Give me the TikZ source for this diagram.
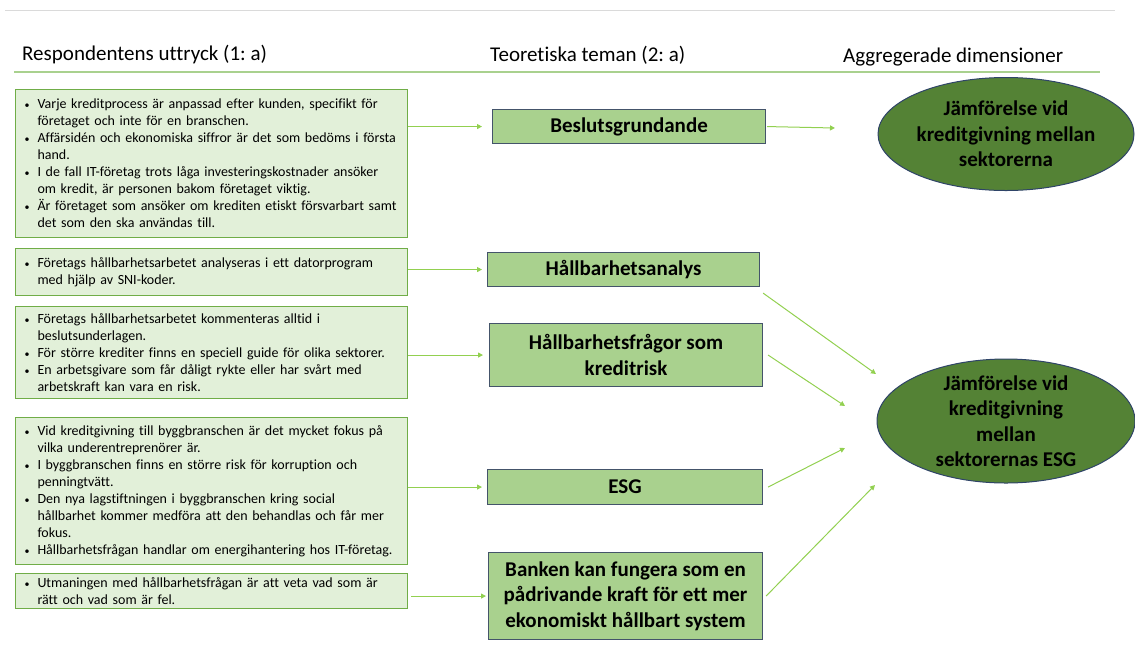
\documentclass[tikz,border=0pt]{standalone}
\usepackage{fontspec}
\setmainfont{Carlito}[Ligatures=NoCommon]
\frenchspacing
\usetikzlibrary{arrows.meta,shapes.geometric}
\definecolor{lfill}{HTML}{E2F0D9}
\definecolor{lborder}{HTML}{70AD47}
\definecolor{mfill}{HTML}{A9D18E}
\definecolor{mborder}{HTML}{44546A}
\definecolor{efill}{HTML}{548235}
\definecolor{eborder}{HTML}{2F4468}
\definecolor{arrgreen}{HTML}{92D050}
\definecolor{hline}{HTML}{A9D18E}
\definecolor{topline}{HTML}{DADADA}
\newcommand{\bitem}[1]{\hangindent=14pt\hangafter=1\noindent\makebox[14pt][l]{\hspace{1pt}{\fontsize{10}{10}\selectfont\textbullet}}#1\par}
\tikzset{
  lbox/.style={draw=lborder, line width=1pt, fill=lfill, anchor=north west, inner xsep=8pt, inner ysep=0pt,
    text width=376pt, align=left, font=\fontsize{14}{17}\selectfont, minimum width=392pt},
  mbox/.style={draw=mborder, line width=1.1pt, fill=mfill, anchor=north west, inner sep=0pt, align=center,
    font=\fontsize{21}{25.5}\selectfont\bfseries},
  ebox/.style={ellipse, draw=eborder, line width=1pt, fill=efill, inner xsep=-2pt, inner ysep=-8pt, align=center,
    font=\fontsize{21}{25.5}\selectfont\bfseries},
  hdr/.style={anchor=west, inner sep=0pt, font=\fontsize{21}{24}\selectfont},
  arr/.style={draw=arrgreen, line width=1pt, -{Triangle[length=5pt,width=5pt]}}
}
\begin{document}
\begin{tikzpicture}[x=1pt,y=-1pt]
\useasboundingbox (0,0) rectangle (1135,649);
% top rules
\draw[topline, line width=1pt] (5,10) -- (1115,10);
\node[hdr] (h1) at (22,55) {Respondentens uttryck (1: a)};
\node[hdr] (h2) at (490,55) {Teoretiska teman (2: a)};
\node[hdr] (h3) at (843,57) {Aggregerade dimensioner};
\draw[hline, line width=2pt] (14,72) -- (1100,72);

% left boxes
\node[lbox, minimum height=148pt] (L1) at (15,89) {%
\bitem{Varje kreditprocess är anpassad efter kunden, specifikt för\newline företaget och inte för en branschen.}
\bitem{Affärsidén och ekonomiska siffror är det som bedöms i första\newline hand.}
\bitem{I de fall IT-företag trots låga investeringskostnader ansöker\newline om kredit, är personen bakom företaget viktig.}
\bitem{Är företaget som ansöker om krediten etiskt försvarbart samt\newline det som den ska användas till.}};
\node[lbox, minimum height=47pt] (L2) at (15,248) {%
\bitem{Företags hållbarhetsarbetet analyseras i ett datorprogram\newline med hjälp av SNI-koder.}};
\node[lbox, minimum height=92pt] (L3) at (15,306) {%
\bitem{Företags hållbarhetsarbetet kommenteras alltid i\newline beslutsunderlagen.}
\bitem{För större krediter finns en speciell guide för olika sektorer.}
\bitem{En arbetsgivare som får dåligt rykte eller har svårt med\newline arbetskraft kan vara en risk.}};
\node[lbox, minimum height=147pt] (L4) at (15,417) {%
\bitem{Vid kreditgivning till byggbranschen är det mycket fokus på\newline vilka underentreprenörer är.}
\bitem{I byggbranschen finns en större risk för korruption och\newline penningtvätt.}
\bitem{Den nya lagstiftningen i byggbranschen kring social\newline hållbarhet kommer medföra att den behandlas och får mer\newline fokus.}
\bitem{Hållbarhetsfrågan handlar om energihantering hos IT-företag.}};
\node[lbox, minimum height=35pt] (L5) at (15,573) {%
\bitem{Utmaningen med hållbarhetsfrågan är att veta vad som är\newline rätt och vad som är fel.}};

% middle boxes
\node[mbox, minimum width=273pt, minimum height=34pt] (B1) at (492,109) {Beslutsgrundande};
\node[mbox, minimum width=272pt, minimum height=34pt] (B2) at (487,252) {Hållbarhetsanalys};
\node[mbox, minimum width=273pt, minimum height=63pt] (B3) at (489,323) {Hållbarhetsfrågor som\\kreditrisk};
\node[mbox, minimum width=275pt, minimum height=35pt] (B4) at (487,469) {ESG};
\node[mbox, minimum width=274pt, minimum height=87pt] (B5) at (488,552) {Banken kan fungera som en\\pådrivande kraft för ett mer\\ekonomiskt hållbart system};

% ellipses
\node[ebox, minimum width=256pt, minimum height=113pt] (E1) at (1006,134) {Jämförelse vid\\kreditgivning mellan\\sektorerna};
\node[ebox, minimum width=258pt, minimum height=124pt] (E2) at (1006,421) {Jämförelse vid\\kreditgivning\\mellan\\sektorernas ESG};

% arrow targets
\coordinate (t0) at (835,128);
\coordinate (t1) at (876,374);
\coordinate (t2) at (845,406);
\coordinate (t3) at (845,448);
\coordinate (t4) at (875,485);

% arrows left -> middle
\draw[arr] (L1.east |- B1.west) -- ([xshift=-10pt]B1.west);
\draw[arr] (L2.east |- B2.west) -- ([xshift=-5pt]B2.west);
\draw[arr] (L3.east |- B3.west) -- ([xshift=-6pt]B3.west);
\draw[arr] (L4.east |- B4.west) -- ([xshift=-5pt]B4.west);
\draw[arr] ([xshift=3pt]L5.east |- B5.west) -- ([xshift=-2pt]B5.west);

% arrows middle -> right
\draw[arr] ([xshift=1pt]B1.east) -- (t0);
\draw[arr] ([shift={(3pt,-6pt)}]B2.south east) -- (t1);
\draw[arr] ([xshift=5pt]B3.east) -- (t2);
\draw[arr] ([xshift=5pt]B4.east) -- (t3);
\draw[arr] ([xshift=3pt]B5.east) -- (t4);
\end{tikzpicture}
\end{document}
